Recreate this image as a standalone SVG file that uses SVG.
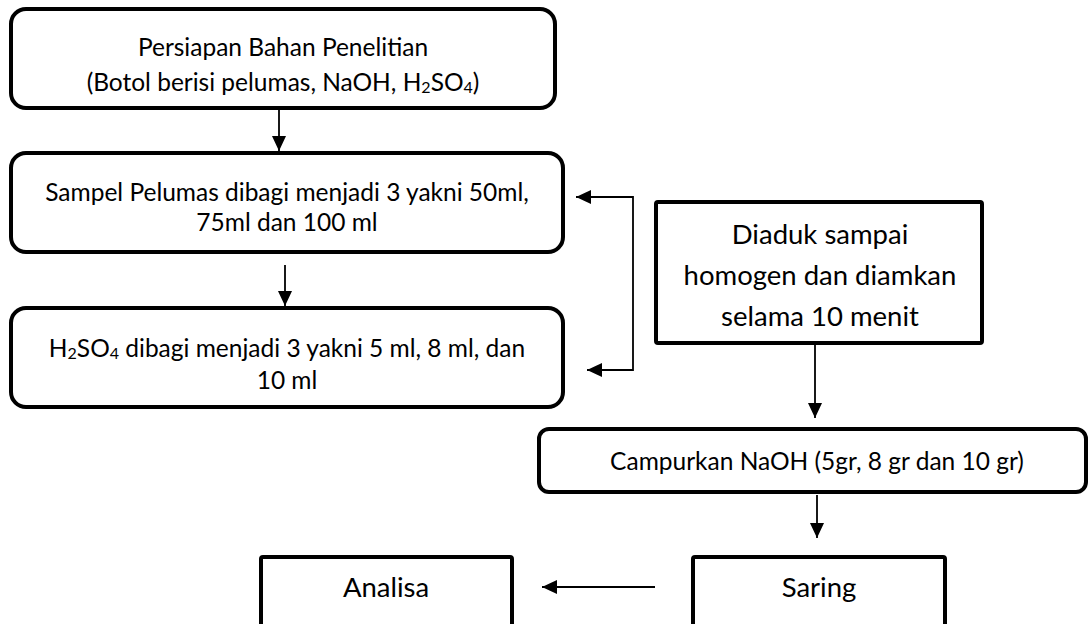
<svg xmlns="http://www.w3.org/2000/svg" width="1091" height="624" viewBox="0 0 1091 624">
<defs>
<style>
.box{fill:#fff;stroke:#000;stroke-width:4}
.t{font-family:Lato,"Liberation Sans",sans-serif;font-size:24.5px;fill:#000;text-anchor:middle}
.tl{font-family:Lato,"Liberation Sans",sans-serif;font-size:27.5px;fill:#000;text-anchor:middle}
.c{fill:none;stroke:#000;stroke-width:1.8}
.sub{font-size:16px}
</style>
<marker id="ah" markerUnits="userSpaceOnUse" markerWidth="15" markerHeight="14" refX="15" refY="7" orient="auto-start-reverse" viewBox="0 0 15 14">
<path d="M0,0 L15,7 L0,14 z" fill="#000"/>
</marker>
</defs>
<rect width="1091" height="624" fill="#fff"/>
<g id="connectors">
<path class="c" d="M279,110 V151" marker-end="url(#ah)"/>
<path class="c" d="M285,265 V306" marker-end="url(#ah)"/>
<path class="c" d="M576,197 H633 V370 H587" marker-start="url(#ah)" marker-end="url(#ah)"/>
<path class="c" d="M815,345 V418" marker-end="url(#ah)"/>
<path class="c" d="M817,495 V538" marker-end="url(#ah)"/>
<path class="c" d="M655,587 H542" marker-end="url(#ah)"/>
</g>
<g id="n1">
<rect class="box" x="11" y="9" width="544" height="99" rx="15"/>
<text class="t" x="283" y="56">Persiapan Bahan Penelitian</text>
<text class="t" x="283" y="91">(Botol berisi pelumas, NaOH, H<tspan class="sub" dy="2">2</tspan><tspan dy="-2">SO</tspan><tspan class="sub" dy="2">4</tspan><tspan dy="-2">)</tspan></text>
</g>
<g id="n2">
<rect class="box" x="11" y="153" width="552" height="99" rx="15"/>
<text class="t" x="287" y="201">Sampel Pelumas dibagi menjadi 3 yakni 50ml,</text>
<text class="t" x="287" y="231">75ml dan 100 ml</text>
</g>
<g id="n3">
<rect class="box" x="11" y="308" width="552" height="99" rx="15"/>
<text class="t" x="287" y="357">H<tspan class="sub" dy="2">2</tspan><tspan dy="-2">SO</tspan><tspan class="sub" dy="2">4</tspan><tspan dy="-2"> dibagi menjadi 3 yakni 5 ml, 8 ml, dan</tspan></text>
<text class="t" x="287" y="389">10 ml</text>
</g>
<g id="n4">
<rect class="box" x="656" y="202" width="326" height="141" rx="2"/>
<text class="tl" x="820" y="244">Diaduk sampai</text>
<text class="tl" x="820" y="285">homogen dan diamkan</text>
<text class="tl" x="820" y="326">selama 10 menit</text>
</g>
<g id="n5">
<rect class="box" x="539" y="429" width="547" height="63" rx="10"/>
<text class="t" x="817" y="470">Campurkan NaOH (5gr, 8 gr dan 10 gr)</text>
</g>
<g id="n6">
<rect class="box" x="693" y="557" width="252" height="90" rx="2"/>
<text class="tl" x="819" y="597">Saring</text>
</g>
<g id="n7">
<rect class="box" x="261" y="557" width="251" height="90" rx="2"/>
<text class="tl" x="386" y="597">Analisa</text>
</g>
</svg>
